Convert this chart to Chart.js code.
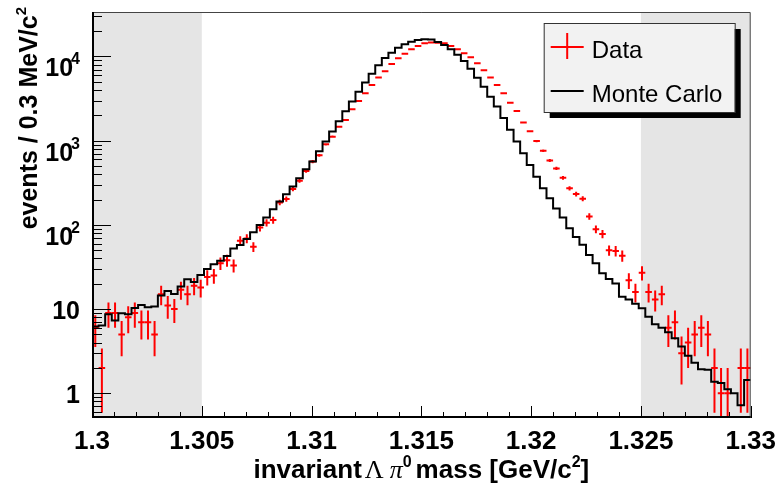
<!DOCTYPE html>
<html>
<head>
<meta charset="utf-8">
<script src="https://cdn.jsdelivr.net/npm/chart.js@4.4.1/dist/chart.umd.min.js"></script>
<style>
  html, body { margin: 0; padding: 0; background: #fff; }
  #wrap { width: 784px; height: 488px; }
</style>
</head>
<body>
<div id="wrap"><canvas id="massChart" width="784" height="488"></canvas></div>
<script>
// binning: 0.3 MeV bins from 1.300 to 1.330 GeV
const xMin = 1.300;
const xMax = 1.330;
const binWidth = 0.0003;

// measured counts per bin
const dataCounts = [
  6, 2, 9, 9, 5, 8, 9, 7, 7, 5,
  15, 11, 10, 17, 15, 19, 18, 24, 25, 35,
  38, 33, 65, 69, 55, 93, 106, 114, 185, 203,
  267, 335, 437, 565, 670, 905, 1117, 1468, 1760, 2360,
  2960, 3650, 4570, 5610, 6700, 8120, 9510, 10750, 12170, 13340,
  14350, 14650, 14600, 14350, 13340, 12170, 10900, 9780, 8300, 6870,
  5630, 4590, 3650, 2830, 2250, 1650, 1295, 990, 760, 583,
  469, 363, 272, 233, 205, 126, 89, 78, 50, 49,
  43, 22, 16, 27, 16, 13, 15, 6, 7, 3,
  4, 5, 6, 5, 2, 1, 1, 0, 2, 2
];

// Monte Carlo histogram (normalised)
const mcCounts = [
  6.2, 6.4, 8.7, 7.3, 8.9, 8.7, 10.3, 11.2, 10.5, 10.7,
  14.5, 16.4, 15.1, 18.5, 22.6, 21.0, 25.4, 30, 34, 37.6,
  42.7, 52.6, 57.6, 68, 81.6, 100, 122, 153, 189, 231,
  285, 357, 457, 565, 750, 980, 1290, 1700, 2240, 2930,
  3820, 4920, 6250, 7850, 9600, 11100, 12700, 14000, 15000, 15700,
  16000, 15900, 14900, 13700, 12150, 10500, 8850, 7140, 5600, 4380,
  3330, 2540, 1860, 1350, 975, 708, 515, 374, 272, 207,
  157, 122, 91, 72, 58, 44, 35, 26.6, 22.8, 20.2,
  14.0, 13.0, 11.6, 10.2, 8.1, 6.6, 6.0, 5.3, 4.5, 3.6,
  2.8, 2.3, 1.93, 1.9, 1.37, 1.33, 1.12, 1.0, 0.72, 1.44
];

// axes
const xTickStep = 0.005;
const xMinorStep = 0.001;
const yMin = 0.509;
const yMax = 33750;
const yTickValues = [1, 10, 100, 1000, 10000];
const yTickBase = ['1', '10', '10', '10', '10'];
const yTickExponents = ['', '', '2', '3', '4'];

// shaded side-band regions
const sidebands = [[1.300, 1.305], [1.325, 1.330]];

const BOLD = '"Liberation Sans", Arial, sans-serif';

// histogram points at the left edge of each bin, plus closing edge
const mcPoints = mcCounts.map((v, i) => ({ x: xMin + i * binWidth, y: v }));
mcPoints.push({ x: xMax, y: mcCounts[mcCounts.length - 1] });

function drawRich(ctx, parts, x, y) {
  let cx = x;
  parts.forEach(p => {
    ctx.font = p.font;
    ctx.fillText(p.t, cx, y + (p.dy || 0));
    cx += ctx.measureText(p.t).width + (p.dx || 0);
  });
}

function richWidth(ctx, parts) {
  let w = 0;
  parts.forEach(p => {
    ctx.font = p.font;
    w += ctx.measureText(p.t).width + (p.dx || 0);
  });
  return w;
}

// side bands + data crosses (under the MC line)
const underPlugin = {
  id: 'under',
  beforeDatasetsDraw(chart) {
    const { ctx, chartArea: a, scales: { x, y } } = chart;
    ctx.save();
    ctx.beginPath();
    ctx.rect(a.left, a.top, a.right - a.left, a.bottom - a.top);
    ctx.clip();

    ctx.fillStyle = '#e5e5e5';
    sidebands.forEach(([lo, hi]) => {
      const x0 = x.getPixelForValue(lo);
      const x1 = x.getPixelForValue(hi);
      ctx.fillRect(x0, a.top, x1 - x0, a.bottom - a.top);
    });

    ctx.strokeStyle = '#ff0000';
    ctx.lineWidth = 2;
    dataCounts.forEach((n, i) => {
      if (!n) return;
      const lo = xMin + i * binWidth;
      const err = Math.sqrt(n);
      const px0 = x.getPixelForValue(lo);
      const px1 = x.getPixelForValue(lo + binWidth);
      const pc = x.getPixelForValue(lo + binWidth / 2);
      const py = y.getPixelForValue(n);
      const pTop = y.getPixelForValue(n + err);
      const pBot = n - err > yMin ? y.getPixelForValue(n - err) : a.bottom;
      ctx.beginPath();
      ctx.moveTo(px0, py);
      ctx.lineTo(px1, py);
      ctx.moveTo(pc, pTop);
      ctx.lineTo(pc, pBot);
      ctx.stroke();
    });
    ctx.restore();
  }
};

// frame, inward ticks, y labels, axis titles, legend
const overPlugin = {
  id: 'over',
  afterDraw(chart) {
    const { ctx, chartArea: a, scales: { x, y } } = chart;
    ctx.save();

    // ticks
    ctx.strokeStyle = '#000';
    ctx.lineWidth = 1;
    ctx.beginPath();
    const nMinor = Math.round((xMax - xMin) / xMinorStep);
    const perMajor = Math.round(xTickStep / xMinorStep);
    for (let k = 0; k <= nMinor; k++) {
      const px = Math.round(x.getPixelForValue(xMin + k * xMinorStep)) + 0.5;
      const len = k % perMajor === 0 ? 12 : 6;
      ctx.moveTo(px, a.bottom);
      ctx.lineTo(px, a.bottom - len);
    }
    for (let d = -1; d <= 4; d++) {
      for (let m = 1; m <= 9; m++) {
        const v = m * Math.pow(10, d);
        if (v < yMin || v > yMax) continue;
        const py = Math.round(y.getPixelForValue(v)) + 0.5;
        ctx.moveTo(a.left, py);
        ctx.lineTo(a.left + (m === 1 ? 19 : 10), py);
      }
    }
    ctx.stroke();

    // frame
    ctx.strokeStyle = '#444';
    ctx.lineWidth = 1;
    ctx.beginPath();
    ctx.moveTo(a.left, a.top + 0.5);
    ctx.lineTo(a.right - 0.5, a.top + 0.5);
    ctx.lineTo(a.right - 0.5, a.bottom);
    ctx.stroke();
    ctx.strokeStyle = '#000';
    ctx.lineWidth = 2;
    ctx.beginPath();
    ctx.moveTo(a.left + 1, a.top);
    ctx.lineTo(a.left + 1, a.bottom - 1);
    ctx.lineTo(a.right, a.bottom - 1);
    ctx.stroke();

    // y tick labels
    ctx.fillStyle = '#000';
    ctx.textBaseline = 'alphabetic';
    ctx.textAlign = 'right';
    const labelRight = a.left - 12;
    yTickValues.forEach((v, i) => {
      const py = y.getPixelForValue(v);
      const exp = yTickExponents[i];
      if (!exp) {
        ctx.font = 'bold 25px ' + BOLD;
        ctx.fillText(yTickBase[i], labelRight, py + 10);
      } else {
        ctx.font = 'bold 16px ' + BOLD;
        const ew = ctx.measureText(exp).width;
        ctx.fillText(exp, labelRight, py + 8);
        ctx.font = 'bold 25px ' + BOLD;
        ctx.fillText(yTickBase[i], labelRight - ew + 2, py + 20);
      }
    });

    // x axis title
    ctx.textAlign = 'left';
    const big = 'bold 26px ' + BOLD;
    const sup = 'bold 16px ' + BOLD;
    const sym = '26px "Liberation Serif", serif';
    const xTitle = [
      { t: 'invariant', font: big, dx: 3 },
      { t: '\u039B', font: sym, dx: 6 },
      { t: '\u03C0', font: 'italic ' + sym },
      { t: '0', font: sup, dy: -11, dx: 4 },
      { t: 'mass [GeV/c', font: big },
      { t: '2', font: sup, dy: -11 },
      { t: ']', font: big }
    ];
    const xw = richWidth(ctx, xTitle);
    drawRich(ctx, xTitle, (a.left + a.right) / 2 - xw / 2, 478);

    // y axis title (rotated, ending at top of frame)
    const yTitle = [
      { t: 'events / 0.3 MeV/c', font: 'bold 25px ' + BOLD },
      { t: '2', font: 'bold 15px ' + BOLD, dy: -11 }
    ];
    const yw = richWidth(ctx, yTitle);
    ctx.save();
    ctx.translate(37, 0);
    ctx.rotate(-Math.PI / 2);
    drawRich(ctx, yTitle, -(7 + yw), 0);
    ctx.restore();

    // legend
    const lx = a.right - 207, ly = a.top + 11, lw = 191, lh = 89;
    ctx.fillStyle = '#000';
    ctx.fillRect(lx + 6, ly + 6, lw, lh);
    ctx.fillStyle = '#f2f2f2';
    ctx.fillRect(lx, ly, lw, lh);
    ctx.strokeStyle = '#333';
    ctx.lineWidth = 1;
    ctx.strokeRect(lx + 0.5, ly + 0.5, lw, lh);

    ctx.strokeStyle = '#ff0000';
    ctx.lineWidth = 2;
    ctx.beginPath();
    ctx.moveTo(lx + 7, ly + 24);
    ctx.lineTo(lx + 40, ly + 24);
    ctx.moveTo(lx + 23.5, ly + 10);
    ctx.lineTo(lx + 23.5, ly + 36);
    ctx.stroke();
    ctx.strokeStyle = '#000';
    ctx.beginPath();
    ctx.moveTo(lx + 7, ly + 68);
    ctx.lineTo(lx + 40, ly + 68);
    ctx.stroke();

    ctx.fillStyle = '#000';
    ctx.font = '24px ' + BOLD;
    ctx.fillText('Data', lx + 48, ly + 35);
    ctx.fillText('Monte Carlo', lx + 48, ly + 79);

    ctx.restore();
  }
};

new Chart(document.getElementById('massChart'), {
  type: 'line',
  data: {
    datasets: [{
      label: 'Monte Carlo',
      data: mcPoints,
      stepped: 'before',
      borderColor: '#000',
      borderWidth: 2,
      pointRadius: 0,
      fill: false
    }]
  },
  options: {
    responsive: false,
    animation: false,
    devicePixelRatio: 1,
    layout: { padding: { top: 12, right: 32, bottom: 0, left: 0 } },
    plugins: {
      legend: { display: false },
      tooltip: { enabled: false }
    },
    scales: {
      x: {
        type: 'linear',
        min: xMin,
        max: xMax,
        grid: { display: false, drawTicks: false },
        border: { display: false },
        ticks: {
          stepSize: xTickStep,
          autoSkip: false,
          maxRotation: 0,
          padding: 8,
          color: '#000',
          font: { family: 'Liberation Sans', weight: 'bold', size: 26 },
          callback: v => parseFloat(Number(v).toFixed(3)).toString()
        },
        afterFit: s => { s.height = 70; }
      },
      y: {
        type: 'logarithmic',
        min: yMin,
        max: yMax,
        grid: { display: false, drawTicks: false },
        border: { display: false },
        ticks: { display: false },
        afterFit: s => { s.width = 92; }
      }
    }
  },
  plugins: [underPlugin, overPlugin]
});
</script>
</body>
</html>
